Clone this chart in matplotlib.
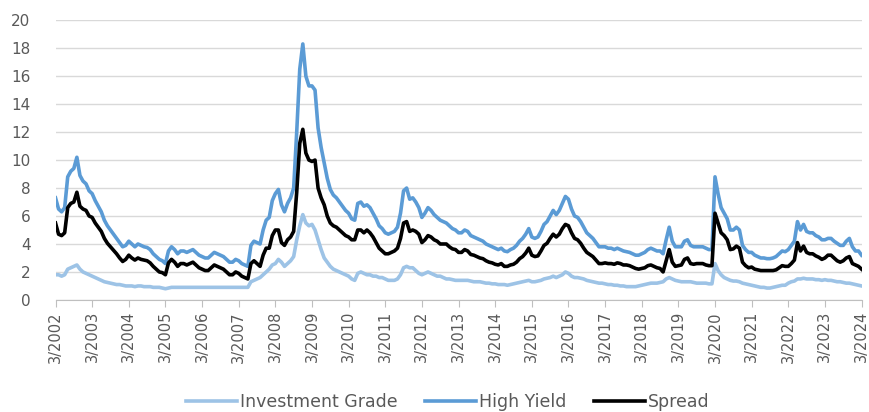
import matplotlib.pyplot as plt

# monthly values, 3/2002 .. 3/2024 (one row per year, Mar..Feb)
high_yield = [
    7.3, 6.5, 6.3, 6.6, 8.8, 9.2, 9.4, 10.2, 8.9, 8.5, 8.3, 7.8,      # 2002
    7.6, 7.1, 6.7, 6.3, 5.7, 5.3, 5.0, 4.7, 4.4, 4.1, 3.8, 3.9,       # 2003
    4.2, 4.0, 3.8, 4.0, 3.9, 3.8, 3.75, 3.6, 3.3, 3.1, 2.9, 2.8,      # 2004
    2.6, 3.5, 3.8, 3.6, 3.3, 3.5, 3.5, 3.4, 3.5, 3.6, 3.4, 3.2,       # 2005
    3.1, 3.0, 3.0, 3.2, 3.4, 3.3, 3.2, 3.1, 2.9, 2.7, 2.7, 2.9,       # 2006
    2.8, 2.6, 2.5, 2.4, 3.9, 4.2, 4.1, 4.0, 5.0, 5.7, 5.9, 7.1,       # 2007
    7.6, 7.9, 6.8, 6.3, 6.9, 7.3, 8.0, 12.0, 16.5, 18.3, 16.0, 15.3,  # 2008
    15.3, 15.0, 12.3, 10.9, 9.8, 8.7, 7.9, 7.5, 7.3, 7.0, 6.7, 6.4,   # 2009
    6.2, 5.8, 5.7, 6.9, 7.0, 6.7, 6.8, 6.6, 6.2, 5.8, 5.3, 5.1,       # 2010
    4.8, 4.7, 4.8, 4.9, 5.2, 6.2, 7.8, 8.0, 7.2, 7.3, 7.0, 6.6,       # 2011
    5.9, 6.2, 6.6, 6.4, 6.1, 5.9, 5.7, 5.6, 5.5, 5.3, 5.1, 5.0,       # 2012
    4.8, 4.8, 5.0, 4.9, 4.6, 4.5, 4.4, 4.3, 4.2, 4.0, 3.9, 3.8,       # 2013
    3.7, 3.6, 3.7, 3.5, 3.45, 3.6, 3.7, 3.9, 4.2, 4.4, 4.7, 5.1,      # 2014
    4.5, 4.4, 4.5, 4.9, 5.4, 5.6, 6.0, 6.4, 6.1, 6.4, 6.9, 7.4,       # 2015
    7.2, 6.5, 6.0, 5.9, 5.6, 5.2, 4.8, 4.6, 4.4, 4.1, 3.8, 3.8,       # 2016
    3.8, 3.7, 3.7, 3.6, 3.7, 3.6, 3.5, 3.45, 3.4, 3.3, 3.2, 3.2,      # 2017
    3.3, 3.4, 3.6, 3.7, 3.6, 3.5, 3.5, 3.3, 4.3, 5.2, 4.2, 3.8,       # 2018
    3.8, 3.8, 4.2, 4.3, 3.9, 3.8, 3.8, 3.8, 3.8, 3.7, 3.6, 3.6,       # 2019
    8.8, 7.6, 6.6, 6.2, 5.8, 5.0, 5.0, 5.2, 5.0, 3.9, 3.6, 3.4,       # 2020
    3.4, 3.2, 3.1, 3.0, 3.0, 2.95, 2.95, 3.0, 3.1, 3.3, 3.5, 3.45,    # 2021
    3.6, 3.9, 4.2, 5.6, 5.0, 5.4, 4.9, 4.8, 4.8, 4.6, 4.5, 4.3,       # 2022
    4.3, 4.4, 4.4, 4.2, 4.05, 3.9, 3.9, 4.2, 4.4, 3.8, 3.5, 3.5,      # 2023
    3.2,                                                             # 2024
]

investment_grade = [
    1.8, 1.8, 1.7, 1.8, 2.2, 2.3, 2.4, 2.5, 2.2, 2.0, 1.9, 1.8,
    1.7, 1.6, 1.5, 1.4, 1.3, 1.25, 1.2, 1.15, 1.1, 1.1, 1.05, 1.0,
    1.0, 1.0, 0.95, 1.0, 1.0, 0.95, 0.95, 0.95, 0.9, 0.9, 0.9, 0.85,
    0.8, 0.85, 0.9, 0.9, 0.9, 0.9, 0.9, 0.9, 0.9, 0.9, 0.9, 0.9,
    0.9, 0.9, 0.9, 0.9, 0.9, 0.9, 0.9, 0.9, 0.9, 0.9, 0.9, 0.9,
    0.9, 0.9, 0.9, 0.9, 1.3, 1.4, 1.5, 1.6, 1.8, 2.0, 2.2, 2.5,
    2.6, 2.9, 2.7, 2.4, 2.6, 2.8, 3.1, 4.3, 5.3, 6.1, 5.5, 5.3,
    5.4, 5.0, 4.3, 3.6, 3.0, 2.7, 2.4, 2.2, 2.1, 2.0, 1.9, 1.8,
    1.7, 1.5, 1.4, 1.9, 2.0, 1.9, 1.8, 1.8, 1.7, 1.7, 1.6, 1.6,
    1.5, 1.4, 1.4, 1.4, 1.5, 1.8, 2.3, 2.4, 2.3, 2.3, 2.1, 1.9,
    1.8, 1.9, 2.0, 1.9, 1.8, 1.7, 1.7, 1.6, 1.5, 1.5, 1.45, 1.4,
    1.4, 1.4, 1.4, 1.4, 1.35, 1.3, 1.3, 1.3, 1.25, 1.2, 1.2, 1.15,
    1.15, 1.1, 1.1, 1.1, 1.05, 1.1, 1.15, 1.2, 1.25, 1.3, 1.35, 1.4,
    1.3, 1.3, 1.35, 1.4, 1.5, 1.55, 1.6, 1.7, 1.6, 1.7, 1.8, 2.0,
    1.9, 1.7, 1.6, 1.6, 1.55, 1.5, 1.4, 1.35, 1.3, 1.25, 1.2, 1.2,
    1.15, 1.1, 1.1, 1.05, 1.05, 1.0, 1.0, 0.95, 0.95, 0.95, 0.95, 1.0,
    1.05, 1.1, 1.15, 1.2, 1.2, 1.2, 1.25, 1.3, 1.5, 1.6, 1.5, 1.4,
    1.35, 1.3, 1.3, 1.3, 1.3, 1.25, 1.2, 1.2, 1.2, 1.2, 1.15, 1.15,
    2.6, 2.1, 1.8, 1.6, 1.5, 1.4, 1.35, 1.35, 1.3, 1.2, 1.15, 1.1,
    1.05, 1.0, 0.95, 0.9, 0.9, 0.85, 0.85, 0.9, 0.95, 1.0, 1.05, 1.05,
    1.2, 1.3, 1.35, 1.5, 1.5, 1.55, 1.5, 1.5, 1.5, 1.45, 1.45, 1.4,
    1.45, 1.4, 1.4, 1.35, 1.3, 1.3, 1.25, 1.2, 1.2, 1.15, 1.1, 1.05,
    1.0,
]

spread = [
    5.5, 4.7, 4.6, 4.8, 6.6, 6.9, 7.0, 7.7, 6.7, 6.5, 6.4, 6.0,
    5.9, 5.5, 5.2, 4.9, 4.4, 4.05, 3.8, 3.55, 3.3, 3.0, 2.75, 2.9,
    3.2, 3.0, 2.85, 3.0, 2.9, 2.85, 2.8, 2.65, 2.4, 2.2, 2.0, 1.95,
    1.8, 2.65, 2.9, 2.7, 2.4, 2.6, 2.6, 2.5, 2.6, 2.7, 2.5, 2.3,
    2.2, 2.1, 2.1, 2.3, 2.5, 2.4, 2.3, 2.2, 2.0, 1.8, 1.8, 2.0,
    1.9, 1.7, 1.6, 1.5, 2.6, 2.8, 2.6, 2.4, 3.2, 3.7, 3.7, 4.6,
    5.0, 5.0, 4.1, 3.9, 4.3, 4.5, 4.9, 7.7, 11.2, 12.2, 10.5, 10.0,
    9.9, 10.0, 8.0, 7.3, 6.8, 6.0, 5.5, 5.3, 5.2, 5.0, 4.8, 4.6,
    4.5, 4.3, 4.3, 5.0, 5.0, 4.8, 5.0, 4.8, 4.5, 4.1, 3.7, 3.5,
    3.3, 3.3, 3.4, 3.5, 3.7, 4.4, 5.5, 5.6, 4.9, 5.0, 4.9, 4.7,
    4.1, 4.3, 4.6, 4.5, 4.3, 4.2, 4.0, 4.0, 4.0, 3.8, 3.65, 3.6,
    3.4, 3.4, 3.6, 3.5, 3.25, 3.2, 3.1, 3.0, 2.95, 2.8, 2.7, 2.65,
    2.55, 2.5, 2.6, 2.4, 2.4, 2.5, 2.55, 2.7, 2.95, 3.1, 3.35, 3.7,
    3.2, 3.1, 3.15, 3.5, 3.9, 4.05, 4.4, 4.7, 4.5, 4.7, 5.1, 5.4,
    5.3, 4.8, 4.4, 4.3, 4.05, 3.7, 3.4, 3.25, 3.1, 2.85, 2.6, 2.6,
    2.65, 2.6, 2.6, 2.55, 2.65, 2.6, 2.5, 2.5, 2.45, 2.35, 2.25, 2.2,
    2.25, 2.3, 2.45, 2.5, 2.4, 2.3, 2.25, 2.0, 2.8, 3.6, 2.7, 2.4,
    2.45, 2.5, 2.9, 3.0, 2.6, 2.55, 2.6, 2.6, 2.6, 2.5, 2.45, 2.45,
    6.2, 5.5, 4.8, 4.6, 4.3, 3.6, 3.65, 3.85, 3.7, 2.7, 2.45, 2.3,
    2.35, 2.2, 2.15, 2.1, 2.1, 2.1, 2.1, 2.1, 2.15, 2.3, 2.45, 2.4,
    2.4, 2.6, 2.85, 4.1, 3.5, 3.85, 3.4, 3.3, 3.3, 3.15, 3.05, 2.9,
    3.0, 3.2, 3.2, 3.0, 2.8, 2.7, 2.8, 3.0, 3.1, 2.6, 2.5, 2.4,
    2.2,
]

years = list(range(2002, 2025))
tick_labels = ['3/' + str(y) for y in years]

grey = '#595959'
months = list(range(len(high_yield)))

fig = plt.figure(figsize=(8.7, 4.12), dpi=100)
ax = fig.add_axes([0.0638, 0.272, 0.9265, 0.679])

ax.plot(months, investment_grade, color='#9DC3E6', lw=2.6, label='Investment Grade')
ax.plot(months, high_yield, color='#5B9BD5', lw=2.6, label='High Yield')
ax.plot(months, spread, color='black', lw=2.6, label='Spread')

ax.set_xlim(0, len(high_yield) - 1)
ax.set_ylim(0, 20)
ax.set_yticks(range(0, 21, 2))
ax.yaxis.grid(True, color='#D9D9D9', lw=1)
ax.set_axisbelow(True)

ax.set_xticks(range(0, len(high_yield), 12))
ax.set_xticklabels(tick_labels, rotation=90)

for s in ['top', 'right', 'left']:
    ax.spines[s].set_visible(False)
ax.spines['bottom'].set_color('#BFBFBF')
ax.tick_params(axis='y', length=0, pad=18, labelsize=11, labelcolor=grey)
ax.tick_params(axis='x', length=5, color='#BFBFBF', pad=3, labelsize=10.5, labelcolor=grey)

fig.legend(loc='lower center', ncol=3, frameon=False, bbox_to_anchor=(0.515, -0.035),
           fontsize=12.5, labelcolor=grey, handlelength=2.9, columnspacing=1.6, handletextpad=0.2)

fig.savefig('out.png', dpi=100)
